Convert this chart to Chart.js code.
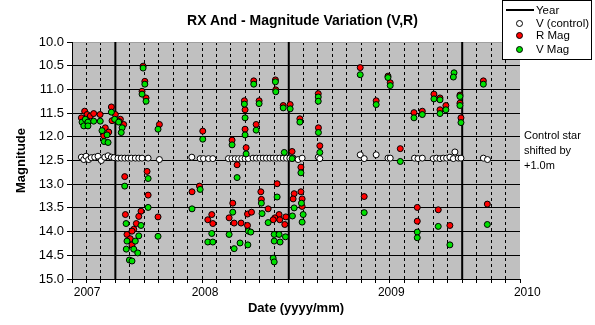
<!DOCTYPE html>
<html>
<head>
<meta charset="utf-8">
<script src="https://cdn.jsdelivr.net/npm/chart.js@4.4.0/dist/chart.umd.min.js"></script>
<style>
body { margin: 0; background: #fff; }
#wrap { position: relative; width: 595px; height: 325px; font-family: "Liberation Sans", Arial, sans-serif; color: #000; }
#grafico { position: absolute; left: 0; top: 0; }
#titolo { position: absolute; left: 0; top: 12px; width: 605px; text-align: center; font-weight: bold; font-size: 14px; line-height: 16px; }
#legenda { position: absolute; left: 502px; top: 0; width: 90px; height: 60px; box-sizing: border-box; border: 1px solid #000; background: #fff; font-size: 11.5px; }
#legenda .voce { position: absolute; left: 33px; height: 13px; line-height: 13px; white-space: nowrap; }
#legenda .linea { position: absolute; left: 3px; top: 8px; width: 28px; height: 2px; background: #000; }
#legenda .pallino { position: absolute; left: 13px; width: 7px; height: 7px; box-sizing: border-box; border: 1px solid #000; border-radius: 50%; }
#nota { position: absolute; left: 524px; top: 128px; font-size: 11px; line-height: 15px; }
</style>
</head>
<body>
<div id="wrap">
  <canvas id="grafico" width="595" height="325"></canvas>
  <div id="titolo">RX And - Magnitude Variation (V,R)</div>
  <div id="legenda">
    <div class="linea"></div><div class="voce" style="top:2.5px">Year</div>
    <div class="pallino" style="top:19px;background:#fff"></div><div class="voce" style="top:16px">V (control)</div>
    <div class="pallino" style="top:31px;background:#ff0000"></div><div class="voce" style="top:28px">R Mag</div>
    <div class="pallino" style="top:45px;background:#00e000"></div><div class="voce" style="top:42px">V Mag</div>
  </div>
  <div id="nota">Control star<br>shifted by<br>+1.0m</div>
</div>
<script>
// asse x in anni decimali
const xMin = 2006.75;
const xMax = 2006.75 + 31 / 12;
const annoLinee = [2007, 2008, 2009];
const etichetteAnni = ['2007', '2008', '2009', '2010'];
const posEtichette = [2006.837, 2007.517, 2008.591, 2009.375];
const tickMag = [10, 10.5, 11, 11.5, 12, 12.5, 13, 13.5, 14, 14.5, 15];

// stella di controllo (spostata di +1.0m)
const controlloDate = [2006.804, 2006.818, 2006.831, 2006.846, 2006.861, 2006.881, 2006.900, 2006.919, 2006.939, 2006.958,
    2006.977, 2006.992, 2007.015, 2007.034, 2007.054, 2007.073, 2007.092, 2007.115, 2007.135, 2007.154,
    2007.189, 2007.254, 2007.441, 2007.489, 2007.508, 2007.537, 2007.562, 2007.652, 2007.672, 2007.691,
    2007.710, 2007.729, 2007.748, 2007.767, 2007.794, 2007.813, 2007.833, 2007.852, 2007.871, 2007.891,
    2007.910, 2007.929, 2007.948, 2007.968, 2007.987, 2008.006, 2008.025, 2008.054, 2008.077, 2008.170,
    2008.179, 2008.412, 2008.435, 2008.504, 2008.572, 2008.585, 2008.725, 2008.745, 2008.770, 2008.833,
    2008.852, 2008.872, 2008.891, 2008.910, 2008.929, 2008.949, 2008.958, 2008.977, 2008.993, 2009.122,
    2009.146];
const controlloMag = [12.43, 12.48, 12.41, 12.48, 12.44, 12.43, 12.41, 12.50, 12.43, 12.40,
    12.43, 12.44, 12.45, 12.45, 12.45, 12.45, 12.45, 12.45, 12.45, 12.45,
    12.45, 12.48, 12.43, 12.46, 12.46, 12.46, 12.46, 12.46, 12.46, 12.46,
    12.46, 12.46, 12.46, 12.46, 12.45, 12.45, 12.45, 12.45, 12.45, 12.45,
    12.45, 12.45, 12.45, 12.45, 12.45, 12.45, 12.45, 12.48, 12.45, 12.43,
    12.46, 12.38, 12.46, 12.38, 12.45, 12.45, 12.45, 12.46, 12.45, 12.46,
    12.45, 12.46, 12.45, 12.45, 12.43, 12.46, 12.32, 12.45, 12.45, 12.45,
    12.48];

// R Mag
const rDate = [2006.823, 2006.837, 2006.804, 2006.856, 2006.875, 2006.912, 2006.942, 2006.933, 2006.962, 2006.977,
    2007.000, 2006.981, 2007.029, 2007.048, 2007.023, 2007.160, 2007.170, 2007.154, 2007.177, 2007.254,
    2007.054, 2007.183, 2007.189, 2007.148, 2007.135, 2007.058, 2007.121, 2007.106, 2007.096, 2007.067,
    2007.086, 2007.096, 2007.246, 2007.504, 2007.673, 2007.744, 2007.748, 2007.748, 2007.754, 2007.702,
    2007.485, 2007.442, 2007.677, 2007.556, 2007.533, 2007.562, 2007.656, 2007.685, 2007.725, 2007.762,
    2007.762, 2007.798, 2007.923, 2007.829, 2007.925, 2007.968, 2008.008, 2008.064, 2008.170, 2008.171,
    2007.812, 2008.179, 2008.019, 2008.070, 2007.933, 2007.839, 2007.842, 2008.031, 2008.070, 2008.025,
    2008.077, 2008.077, 2007.881, 2007.785, 2007.944, 2007.920, 2007.983, 2007.948, 2007.910, 2007.977,
    2008.412, 2008.572, 2008.585, 2008.504, 2008.722, 2008.770, 2008.643, 2008.435, 2008.741, 2008.741,
    2008.837, 2008.872, 2008.906, 2008.872, 2008.987, 2008.987, 2008.993, 2009.122, 2008.862, 2008.929,
    2009.145];
const rMag = [11.46, 11.53, 11.60, 11.56, 11.51, 11.53, 11.81, 11.98, 11.90, 11.37,
    11.53, 11.66, 11.63, 11.74, 11.68, 10.51, 10.83, 11.04, 11.18, 11.74,
    12.84, 12.73, 13.23, 13.57, 13.68, 13.64, 13.83, 13.95, 13.99, 14.06,
    14.15, 14.28, 13.69, 11.88, 12.07, 11.24, 11.43, 11.84, 12.23, 12.59,
    13.04, 13.16, 13.40, 13.64, 13.75, 13.83, 13.71, 13.82, 13.82, 13.63,
    13.87, 10.82, 10.80, 11.24, 11.01, 11.34, 11.32, 11.62, 11.09, 11.81,
    11.74, 12.19, 12.31, 12.64, 12.99, 13.16, 13.32, 13.20, 13.16, 13.31,
    13.31, 13.47, 13.52, 13.59, 13.64, 13.71, 13.69, 13.75, 13.75, 13.85,
    10.54, 10.72, 10.86, 11.24, 11.49, 11.46, 12.25, 13.26, 13.49, 13.78,
    11.10, 11.18, 11.34, 11.43, 11.12, 11.29, 11.60, 10.82, 13.54, 13.87,
    13.42];

// V Mag
const vDate = [2006.808, 2006.818, 2006.827, 2006.842, 2006.842, 2006.875, 2006.913, 2006.923, 2006.952, 2006.935,
    2006.958, 2006.977, 2006.996, 2007.019, 2007.039, 2007.034, 2007.160, 2007.170, 2007.154, 2007.177,
    2007.246, 2007.054, 2007.189, 2007.189, 2007.148, 2007.062, 2007.135, 2007.067, 2007.115, 2007.063,
    2007.106, 2007.129, 2007.081, 2007.096, 2007.246, 2007.504, 2007.673, 2007.744, 2007.748, 2007.748,
    2007.754, 2007.702, 2007.489, 2007.442, 2007.677, 2007.556, 2007.533, 2007.562, 2007.656, 2007.719,
    2007.685, 2007.767, 2007.764, 2007.798, 2007.923, 2007.829, 2007.925, 2007.968, 2008.008, 2008.064,
    2008.170, 2008.170, 2008.171, 2007.812, 2008.179, 2007.974, 2008.019, 2008.070, 2007.933, 2007.842,
    2007.846, 2008.031, 2008.083, 2008.073, 2008.021, 2008.077, 2007.881, 2007.781, 2007.916, 2007.944,
    2007.981, 2007.916, 2007.950, 2007.910, 2007.916, 2008.412, 2008.572, 2008.585, 2008.504, 2008.722,
    2008.770, 2008.643, 2008.435, 2008.741, 2008.741, 2008.837, 2008.872, 2008.906, 2008.872, 2008.953,
    2008.949, 2008.987, 2008.987, 2008.993, 2009.122, 2008.862, 2008.929, 2009.145];
const vMag = [11.69, 11.77, 11.63, 11.69, 11.77, 11.67, 11.67, 11.87, 11.96, 12.10,
    12.12, 11.48, 11.63, 11.69, 11.81, 11.91, 10.55, 10.89, 11.10, 11.25,
    11.84, 13.04, 12.88, 13.49, 13.87, 13.83, 14.09, 14.20, 14.20, 14.37,
    14.37, 14.45, 14.60, 14.62, 14.10, 12.05, 12.17, 11.31, 11.60, 11.96,
    12.36, 12.86, 13.11, 13.52, 13.59, 14.04, 14.22, 14.22, 14.06, 14.24,
    14.36, 13.99, 14.28, 10.89, 10.84, 11.30, 11.05, 11.39, 11.41, 11.69,
    11.16, 11.25, 11.91, 11.86, 12.33, 12.33, 12.46, 12.76, 13.27, 13.40,
    13.62, 13.50, 13.64, 13.40, 13.67, 13.80, 13.81, 14.01, 14.06, 14.06,
    14.11, 14.20, 14.22, 14.56, 14.64, 10.69, 10.75, 10.92, 11.32, 11.60,
    11.53, 12.52, 13.60, 14.01, 14.13, 11.20, 11.22, 11.43, 11.51, 10.65,
    10.74, 11.15, 11.34, 11.70, 10.89, 13.89, 14.28, 13.85];

function punti(xs, ys) {
    return xs.map((x, i) => ({ x: x, y: ys[i] }));
}

// tacche mensili sull'asse x
const mesi = [];
for (let k = 0; k <= 31; k++) mesi.push(xMin + k / 12);

// sfondo grigio dell'area del grafico
const sfondoGrigio = {
    id: 'sfondoGrigio',
    beforeDraw(chart) {
        const a = chart.chartArea;
        chart.ctx.save();
        chart.ctx.fillStyle = '#c0c0c0';
        chart.ctx.fillRect(a.left, a.top, a.right - a.left, a.bottom - a.top);
        chart.ctx.restore();
    }
};

Chart.defaults.font.family = '"Liberation Sans", Arial, sans-serif';
Chart.defaults.color = '#000';

const lineeAnno = annoLinee.map(a => ({
    label: 'Year',
    data: [{ x: a, y: 10 }, { x: a, y: 15 }],
    showLine: true,
    borderColor: '#000',
    borderWidth: 2,
    pointRadius: 0,
    order: 4
}));

new Chart(document.getElementById('grafico'), {
    type: 'scatter',
    data: {
        datasets: [
            ...lineeAnno,
            { label: 'V (control)', data: punti(controlloDate, controlloMag), backgroundColor: '#ffffff', borderColor: '#000', borderWidth: 1, pointRadius: 3, order: 3 },
            { label: 'R Mag', data: punti(rDate, rMag), backgroundColor: '#ff0000', borderColor: '#000', borderWidth: 1, pointRadius: 3, order: 2 },
            { label: 'V Mag', data: punti(vDate, vMag), backgroundColor: '#00e000', borderColor: '#000', borderWidth: 1, pointRadius: 3, order: 1 }
        ]
    },
    options: {
        responsive: false,
        animation: false,
        devicePixelRatio: 1,
        events: [],
        layout: { padding: { top: 42, right: 75, left: 0, bottom: 0 } },
        plugins: { legend: { display: false }, tooltip: { enabled: false } },
        scales: {
            x: {
                type: 'linear',
                min: xMin,
                max: xMax,
                afterBuildTicks: s => { s.ticks = mesi.map(v => ({ value: v })); },
                ticks: { display: false },
                grid: { color: c => c.index === 31 ? 'rgba(0,0,0,0)' : '#000', tickColor: '#000', tickLength: 4 },
                border: { color: '#000', dash: [3, 3] },
                afterFit: s => { s.height = 5; }
            },
            x2: {
                type: 'linear',
                position: 'bottom',
                weight: 1,
                min: xMin,
                max: xMax,
                afterBuildTicks: s => { s.ticks = posEtichette.map(v => ({ value: v })); },
                ticks: { autoSkip: false, maxRotation: 0, padding: 1, font: { size: 12 }, callback: (v, i) => etichetteAnni[i] },
                grid: { display: false, drawTicks: false },
                border: { display: false },
                title: { display: true, text: 'Date (yyyy/mm)', font: { size: 13, weight: 'bold' }, padding: { top: 0, bottom: 9 } },
                afterFit: s => { s.height = 41; }
            },
            y: {
                min: 10,
                max: 15,
                reverse: true,
                afterBuildTicks: s => { s.ticks = tickMag.map(v => ({ value: v })); },
                ticks: { padding: 3, font: { size: 13 }, callback: v => v.toFixed(1) },
                grid: { color: c => c.tick && c.tick.value === 10 ? '#a0a0a0' : '#000', tickColor: '#000', tickLength: 5 },
                border: { color: '#000' },
                title: { display: true, text: 'Magnitude', font: { size: 13, weight: 'bold' }, padding: { top: 14, bottom: 0 } },
                afterFit: s => { s.width = 72; }
            }
        }
    },
    plugins: [sfondoGrigio]
});
</script>
</body>
</html>
